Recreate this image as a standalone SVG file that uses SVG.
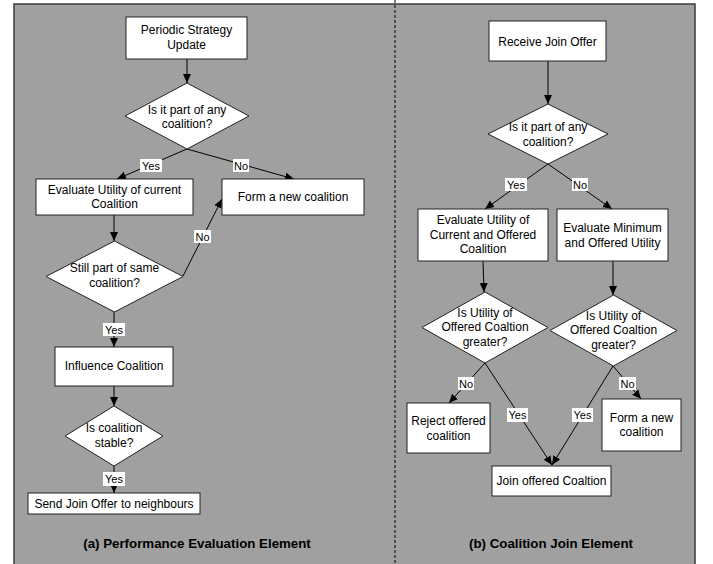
<svg xmlns="http://www.w3.org/2000/svg" width="713" height="564" viewBox="0 0 713 564">
<defs>
<marker id="ah" markerUnits="userSpaceOnUse" markerWidth="10" markerHeight="10" viewBox="0 0 10 10" refX="9" refY="5" orient="auto">
<path d="M0,1 L9,5 L0,9 Z" fill="#000"/>
</marker>
<style>
.box{fill:#fff;stroke:#222;stroke-width:1}
.dia{fill:#fff;stroke:#222;stroke-width:1}
.t{font-family:"Liberation Sans",Arial,sans-serif;font-size:12px;fill:#000;text-anchor:middle}
.lt{font-family:"Liberation Sans",Arial,sans-serif;font-size:11px;fill:#000;text-anchor:middle}
.lb{fill:#fff;stroke:none}
.cap{font-family:"Liberation Sans",Arial,sans-serif;font-size:13.3px;font-weight:bold;fill:#000;text-anchor:middle}
.c{stroke:#000;stroke-width:1;fill:none;marker-end:url(#ah)}
</style>
</defs>
<rect x="14" y="4" width="681" height="575" fill="#a0a0a0" stroke="#3a3a3a" stroke-width="1.5"/>
<line x1="395" y1="0" x2="395" y2="564" stroke="#000" stroke-width="1" stroke-dasharray="3,2"/>

<g id="connectors">
<line class="c" x1="187" y1="59" x2="187" y2="83"/>
<line class="c" x1="187" y1="149" x2="117" y2="179"/>
<line class="c" x1="187" y1="149" x2="294" y2="179"/>
<line class="c" x1="114" y1="215" x2="114" y2="241"/>
<polyline class="c" points="183,276 222,199"/>
<line class="c" x1="114" y1="312" x2="114" y2="347"/>
<line class="c" x1="114" y1="386" x2="114" y2="406"/>
<line class="c" x1="114" y1="466" x2="114" y2="493"/>

<line class="c" x1="548" y1="61" x2="548" y2="104"/>
<line class="c" x1="548" y1="164" x2="485" y2="209"/>
<line class="c" x1="548" y1="164" x2="612" y2="209"/>
<line class="c" x1="483" y1="261" x2="484" y2="292"/>
<line class="c" x1="613" y1="261" x2="613" y2="295"/>
<line class="c" x1="485" y1="363" x2="449" y2="403"/>
<line class="c" x1="485" y1="363" x2="552" y2="465"/>
<line class="c" x1="613" y1="366" x2="552" y2="465"/>
<line class="c" x1="613" y1="366" x2="641" y2="399"/>
</g>

<g id="labels">
<rect class="lb" x="140" y="159" width="22" height="13"/><text class="lt" x="151" y="169.5">Yes</text>
<rect class="lb" x="233" y="159" width="16" height="13"/><text class="lt" x="241" y="169.5">No</text>
<rect class="lb" x="194" y="230" width="17" height="13"/><text class="lt" x="202.5" y="240.5">No</text>
<rect class="lb" x="103" y="323" width="22" height="13"/><text class="lt" x="114" y="333.5">Yes</text>
<rect class="lb" x="103" y="472" width="22" height="14"/><text class="lt" x="114" y="483">Yes</text>
<rect class="lb" x="505" y="178" width="22" height="13"/><text class="lt" x="516" y="188.5">Yes</text>
<rect class="lb" x="572" y="178" width="16" height="13"/><text class="lt" x="580" y="188.5">No</text>
<rect class="lb" x="458" y="377" width="16" height="13"/><text class="lt" x="466" y="387.5">No</text>
<rect class="lb" x="507" y="408" width="21" height="14"/><text class="lt" x="517.5" y="419">Yes</text>
<rect class="lb" x="572" y="408" width="21" height="14"/><text class="lt" x="582.5" y="419">Yes</text>
<rect class="lb" x="619" y="377" width="17" height="13"/><text class="lt" x="627.5" y="387.5">No</text>
</g>

<g id="periodic"><rect class="box" x="126" y="17" width="121" height="42"/><text class="t" x="186.5" y="34">Periodic Strategy</text><text class="t" x="186.5" y="49">Update</text></g>
<g id="q1"><polygon class="dia" points="187,83 249,116 187,149 125,116"/><text class="t" x="187" y="114">Is it part of any</text><text class="t" x="187" y="128">coalition?</text></g>
<g id="evalCurrent"><rect class="box" x="36" y="179" width="157" height="36"/><text class="t" x="114.5" y="194">Evaluate Utility of current</text><text class="t" x="114.5" y="208">Coalition</text></g>
<g id="formNewA"><rect class="box" x="222" y="179" width="142" height="36"/><text class="t" x="293" y="201">Form a new coalition</text></g>
<g id="q2"><polygon class="dia" points="114.5,241 183,276.5 114.5,312 46,276.5"/><text class="t" x="114.5" y="272">Still part of same</text><text class="t" x="114.5" y="287">coalition?</text></g>
<g id="influence"><rect class="box" x="55" y="347" width="118" height="39"/><text class="t" x="114" y="370">Influence Coalition</text></g>
<g id="q3"><polygon class="dia" points="114,406 163,436 114,466 65,436"/><text class="t" x="114" y="432">Is coalition</text><text class="t" x="114" y="447">stable?</text></g>
<g id="sendJoin"><rect class="box" x="28" y="493" width="172" height="21"/><text class="t" x="114" y="507.5">Send Join Offer to neighbours</text></g>
<g id="capA"><text class="cap" x="197" y="548">(a) Performance Evaluation Element</text></g>

<g id="receive"><rect class="box" x="489" y="21" width="117" height="40"/><text class="t" x="547.5" y="46">Receive Join Offer</text></g>
<g id="q4"><polygon class="dia" points="548,104 608,134 548,164 488,134"/><text class="t" x="548" y="131">Is it part of any</text><text class="t" x="548" y="146">coalition?</text></g>
<g id="evalCO"><rect class="box" x="418" y="209" width="130" height="52"/><text class="t" x="483" y="224">Evaluate Utility of</text><text class="t" x="483" y="239">Current and Offered</text><text class="t" x="483" y="253">Coalition</text></g>
<g id="evalMO"><rect class="box" x="557" y="209" width="111" height="52"/><text class="t" x="612.5" y="232">Evaluate Minimum</text><text class="t" x="612.5" y="247">and Offered Utility</text></g>
<g id="q5"><polygon class="dia" points="485,292 548,327.5 485,363 422,327.5"/><text class="t" x="485" y="317">Is Utility of</text><text class="t" x="485" y="331">Offered Coaltion</text><text class="t" x="485" y="346">greater?</text></g>
<g id="q6"><polygon class="dia" points="613.5,295 677,330.5 613.5,366 550,330.5"/><text class="t" x="613.5" y="320">Is Utility of</text><text class="t" x="613.5" y="334">Offered Coaltion</text><text class="t" x="613.5" y="349">greater?</text></g>
<g id="reject"><rect class="box" x="407" y="403" width="83" height="50"/><text class="t" x="448.5" y="425">Reject offered</text><text class="t" x="448.5" y="440">coalition</text></g>
<g id="formNewB"><rect class="box" x="602" y="399" width="79" height="52"/><text class="t" x="641.5" y="422">Form a new</text><text class="t" x="641.5" y="436">coalition</text></g>
<g id="joinOffered"><rect class="box" x="492" y="466" width="119" height="30"/><text class="t" x="551.5" y="485">Join offered Coaltion</text></g>
<g id="capB"><text class="cap" x="551" y="548">(b) Coalition Join Element</text></g>
</svg>
